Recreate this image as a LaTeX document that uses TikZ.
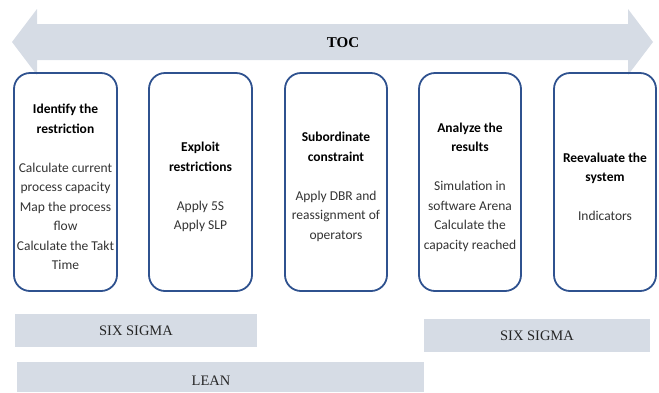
\documentclass[tikz,border=0pt]{standalone}
\usepackage{fontspec}
\setmainfont{Carlito}
\newfontfamily\serifx{Liberation Serif}
\definecolor{bandfill}{HTML}{D6DCE5}
\definecolor{boxline}{HTML}{2F528F}
\definecolor{bodytext}{HTML}{333333}
\begin{document}
\begin{tikzpicture}[x=1pt,y=-1pt,
  stagebox/.style={draw=boxline,line width=1.8pt,rounded corners=16pt},
  stagetext/.style={align=center,font=\fontsize{13.5}{19.5}\selectfont,text=bodytext},
  band/.style={fill=bandfill,draw=none},
  bandlabel/.style={font=\serifx\fontsize{14.5}{16}\selectfont,text=black!85}]
\useasboundingbox (0,0) rectangle (659,392);
% TOC double arrow
\path[band] (12,42) -- (37,9) -- (37,24) -- (628,24) -- (628,9) -- (653,42)
  -- (628,75) -- (628,60) -- (37,60) -- (37,75) -- cycle;
\node[font=\serifx\bfseries\fontsize{15}{17}\selectfont] (toc) at (343,43) {TOC};
% stage boxes
\draw[stagebox] (14,73) rectangle (117,291);
\draw[stagebox] (149,73) rectangle (252,291);
\draw[stagebox] (285,73) rectangle (387,291);
\draw[stagebox] (419,73) rectangle (521,291);
\draw[stagebox] (554,73) rectangle (656,291);
\node[stagetext] (s1) at (65.5,187) {\textbf{\color{black}Identify the}\\\textbf{\color{black}restriction}\\[19.5pt]Calculate current\\process capacity\\Map the process\\flow\\Calculate the Takt\\Time};
\node[stagetext] (s2) at (200.5,187) {\textbf{\color{black}Exploit}\\\textbf{\color{black}restrictions}\\[19.5pt]Apply 5S\\Apply SLP};
\node[stagetext] (s3) at (336,187) {\textbf{\color{black}Subordinate}\\\textbf{\color{black}constraint}\\[19.5pt]Apply DBR and\\reassignment of\\operators};
\node[stagetext] (s4) at (470,187) {\textbf{\color{black}Analyze the}\\\textbf{\color{black}results}\\[19.5pt]Simulation in\\software Arena\\Calculate the\\capacity reached};
\node[stagetext] (s5) at (605,187) {\textbf{\color{black}Reevaluate the}\\\textbf{\color{black}system}\\[19.5pt]Indicators};
% bottom bands
\path[band] (15,314) rectangle (257,347);
\node[bandlabel] (ss1) at (136,331) {SIX SIGMA};
\path[band] (424,319) rectangle (650,352);
\node[bandlabel] (ss2) at (537,336) {SIX SIGMA};
\path[band] (17,362) rectangle (424,392);
\node[bandlabel] (lean) at (211,381) {LEAN};
\end{tikzpicture}
\end{document}
